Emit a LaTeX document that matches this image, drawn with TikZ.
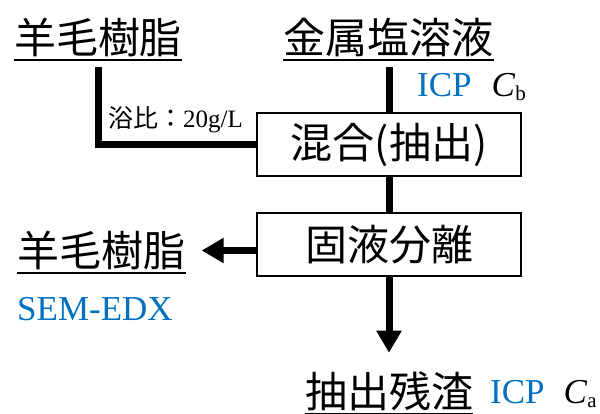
\documentclass[tikz,border=0pt]{standalone}
\usepackage{fontspec}
\setmainfont{Liberation Serif}
\newfontfamily\jp{Noto Sans CJK JP}
\usetikzlibrary{arrows.meta,calc}
\definecolor{mblue}{RGB}{0,112,192}
\tikzset{
  lab/.style={font=\jp\fontsize{42}{42}\selectfont, inner sep=0pt},
  proc/.style={draw, line width=2pt, minimum width=264pt, minimum height=63pt, inner sep=0pt, font=\jp\fontsize{42}{42}\selectfont},
  flow/.style={line width=7pt},
  arr/.style={flow, -{Triangle[length=22pt,width=24pt]}},
  uline/.style={line width=2pt},
  meas/.style={font=\fontsize{35}{35}\selectfont, inner sep=0pt, anchor=base west},
  small/.style={font=\fontsize{25}{25}\selectfont, inner sep=0pt, anchor=base west}
}
\newcommand{\subsc}[1]{\raisebox{-4pt}{\fontsize{21}{21}\selectfont #1}}
\begin{document}
\begin{tikzpicture}[x=1pt,y=-1pt]
\useasboundingbox (0,0) rectangle (600,414);
\node[lab] (w1) at (98,37.5) {羊毛樹脂};
\node[lab] (m) at (388.5,37.5) {金属塩溶液};
\node[proc] (mix) at (389,144.5) {混合(抽出)};
\node[proc] (sep) at (389,244.5) {固液分離};
\node[lab] (w2) at (101.5,250.5) {羊毛樹脂};
\node[lab] (res) at (389,391.5) {抽出残渣};
% underlines
\foreach \n in {w1,m,w2,res}{
  \draw[uline] ($(\n.south west)+(0,2.5)$) -- ($(\n.south east)+(0,2.5)$);
}
% labels
\node[small] (ratio) at (108,128) {{\jp 浴比：}20g/L};
\node[meas] (icpb) at (417,97) {\textcolor{mblue}{ICP}\hspace{20pt}\textit{C}\subsc{b}};
\node[meas] (sem) at (17,320) {\textcolor{mblue}{SEM-EDX}};
\node[meas] (icpa) at (490,403) {\textcolor{mblue}{ICP}\hspace{19pt}\textit{C}\subsc{a}};
% connectors
\draw[flow] ($(w1.south)+(0,10)$) |- (mix.west);
\draw[flow] ($(mix.north |- m.south)+(0,10)$) -- (mix.north);
\draw[flow] (mix.south) -- (sep.north);
\draw[arr] (sep.west |- w2.east) -- ($(w2.east)+(16,0)$);
\draw[arr] (sep.south) -- ($(res.north)+(0,-19)$);
\end{tikzpicture}
\end{document}
